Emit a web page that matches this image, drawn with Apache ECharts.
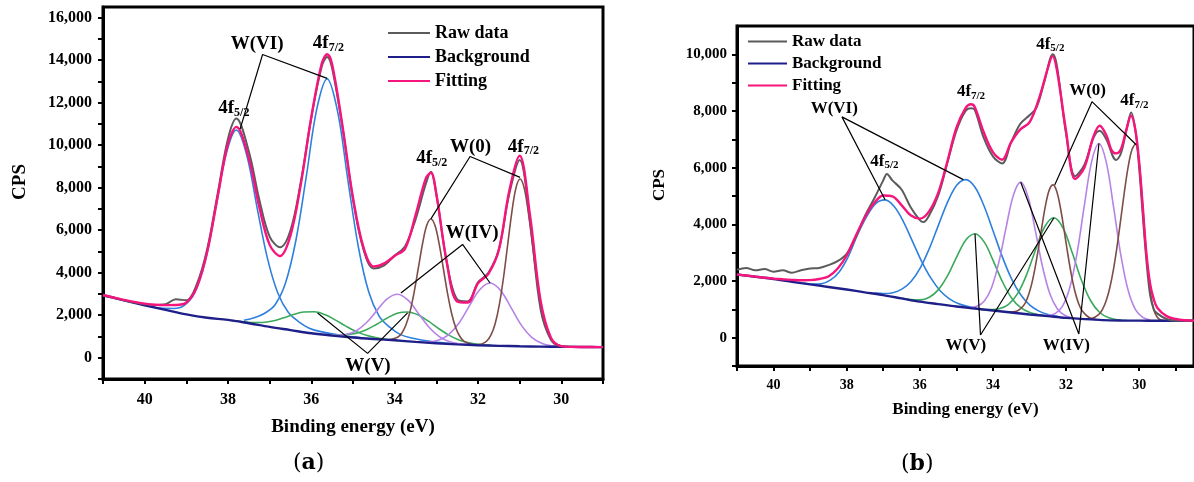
<!DOCTYPE html>
<html>
<head>
<meta charset="utf-8">
<script src="https://cdn.jsdelivr.net/npm/echarts@6/dist/echarts.min.js"></script>
<style>
html, body { margin: 0; padding: 0; background: #fff; }
#main { width: 1194px; height: 482px; }
</style>
</head>
<body>
<div id="main"></div>
<script>
// ---------- panel (a) ----------
var aBackground = [[41,2940],[40.5,2700],[40,2470],[39.5,2250],[39,2040],[38.5,1880],[38,1780],[37.5,1620],[37,1450],[36.5,1300],[36,1150],[35.5,1040],[35,950],[34.5,880],[34,820],[33.5,745],[33,680],[32.5,630],[32,590],[31.5,560],[31,540],[30.5,525],[30,515],[29.5,505],[29,500]];
var aRaw = [[41,2920],[40.75,2850],[40.5,2700],[40.25,2600],[40,2520],[39.75,2480],[39.5,2520],[39.25,2750],[39,2700],[38.75,3450],[38.5,5100],[38.25,7700],[38,10300],[37.8,11250],[37.5,9700],[37.25,7450],[37,5700],[36.75,5200],[36.5,6000],[36.25,8300],[36,11300],[35.75,13700],[35.62,14150],[35.5,13600],[35.25,10800],[35,7450],[34.75,5100],[34.5,4200],[34.25,4350],[34,4800],[33.75,5250],[33.5,6500],[33.25,8200],[33.13,8750],[33,7700],[32.75,4500],[32.5,2750],[32.25,2650],[32,3550],[31.75,4000],[31.5,5100],[31.25,7700],[31,9300],[30.75,6400],[30.5,2300],[30.25,850],[30,540],[29.75,515],[29.5,505],[29.25,502],[29,500]];
var aFit = [[41,2950],[40.75,2835],[40.5,2725],[40.25,2625],[40,2545],[39.75,2490],[39.5,2475],[39.25,2480],[39,2600],[38.75,3320],[38.5,4970],[38.25,7560],[38,10070],[37.8,10860],[37.5,9371],[37.25,7099],[37,5310],[36.75,4788],[36.5,5757],[36.25,8195],[36,11325],[35.75,13842],[35.62,14280],[35.5,13800],[35.25,10873],[35,7523],[34.75,5203],[34.5,4289],[34.25,4439],[34,4797],[33.75,5135],[33.5,6700],[33.25,8450],[33.13,8700],[33,7700],[32.75,4500],[32.5,2650],[32.25,2600],[32,3500],[31.75,3950],[31.5,5065],[31.25,7846],[31,9500],[30.75,6667],[30.5,2703],[30.25,945],[30,546],[29.75,510],[29.5,505],[29.25,502],[29,500]];
var aVI52 = [[39.8,2385],[39.55,2325],[39.3,2318],[39.05,2465],[38.8,3055],[38.55,4505],[38.3,6965],[38.05,9530],[37.8,10715],[37.55,9528],[37.3,7040],[37.05,4651],[36.8,3019],[36.55,2125],[36.3,1690],[36.05,1390],[35.8,1240],[35.3,1059],[34.8,938]];
var aVI72 = [[37.62,1763],[37.37,1876],[37.12,2093],[36.87,2495],[36.62,3517],[36.37,5527],[36.12,8539],[35.87,11692],[35.62,13120],[35.37,11587],[35.12,8324],[34.87,5197],[34.62,3077],[34.37,1950],[34.12,1438],[33.87,1101],[33.62,941],[33.12,767],[32.62,664]];
var aV52 = [[37.93,1765],[37.68,1704],[37.43,1659],[37.18,1660],[36.93,1725],[36.68,1868],[36.43,2034],[36.18,2155],[35.93,2161],[35.68,2030],[35.43,1782],[35.18,1498],[34.93,1240],[34.68,1055],[34.43,934],[34.18,864],[33.93,817]];
var aV72 = [[35.69,1090],[35.44,1062],[35.19,1076],[34.94,1146],[34.69,1308],[34.44,1565],[34.19,1859],[33.94,2093],[33.69,2155],[33.44,2018],[33.19,1719],[32.94,1365],[32.69,1053],[32.44,826],[32.19,691],[31.94,617],[31.69,580]];
var aIV52 = [[35.68,1086],[35.43,1057],[35.18,1092],[34.93,1258],[34.68,1644],[34.43,2217],[34.18,2774],[33.93,2990],[33.68,2709],[33.43,2087],[33.18,1444],[32.93,993],[32.68,757],[32.43,654],[32.18,611]];
var aIV72 = [[33.46,753],[33.21,744],[32.96,819],[32.71,1080],[32.46,1623],[32.21,2425],[31.96,3197],[31.71,3515],[31.46,3170],[31.21,2368],[30.96,1536],[30.71,960],[30.46,668],[30.21,558],[29.96,522]];
var aW052 = [[34.13,845],[33.93,961],[33.83,1155],[33.73,1539],[33.63,2179],[33.53,3115],[33.43,4245],[33.33,5374],[33.23,6230],[33.13,6530],[33.03,6204],[32.93,5329],[32.83,4175],[32.73,3015],[32.63,2059],[32.53,1389],[32.43,987],[32.33,771],[32.13,620]];
var aW072 = [[31.99,618],[31.89,664],[31.79,788],[31.69,1062],[31.59,1588],[31.49,2472],[31.39,3740],[31.29,5280],[31.19,6817],[31.09,7982],[30.99,8410],[30.89,7972],[30.79,6804],[30.69,5258],[30.59,3713],[30.49,2437],[30.39,1546],[30.29,1013],[30.19,729],[29.99,543]];
var aLeadVI = [[37.71,10752],[37.17,14267],[35.62,13140]];
var aLead0 = [[33.13,6534],[32.19,9468],[30.99,8483]];
var aLeadIV = [[33.85,3047],[32.37,5330],[31.71,3515]];
var aLeadV = [[35.85,2109],[34.65,206],[33.69,2109]];
var aLabelText = ['W(VI)', '4f|5/2', '4f|7/2', '4f|5/2', 'W(0)', '4f|7/2', 'W(IV)', 'W(V)'];
var aLabelPos = [[37.30,14750],[37.86,11750],[35.59,14800],[33.11,9383],[32.18,9890],[30.91,9922],[32.14,5845],[34.64,-390]];
var aXTicks = [41,40,39,38,37,36,35,34,33,32,31,30,29];
var aXLabels = [40,38,36,34,32,30];
var aYTicks = [-1000,0,1000,2000,3000,4000,5000,6000,7000,8000,9000,10000,11000,12000,13000,14000,15000,16000];
var aYLabels = [0,2000,4000,6000,8000,10000,12000,14000,16000];

// ---------- panel (b) ----------
var bBackground = [[41,2230],[40.5,2150],[40,2070],[39.5,1975],[39,1880],[38.5,1790],[38,1700],[37.5,1600],[37,1500],[36.5,1385],[36,1270],[35.5,1185],[35,1100],[34.5,1030],[34,960],[33.5,890],[33,820],[32.5,760],[32,700],[31.5,655],[31,620],[30.5,605],[30,600],[29.5,597],[29,595],[28.5,595]];
var bRaw = [[41,2400],[40.75,2460],[40.5,2380],[40.25,2420],[40,2330],[39.75,2380],[39.5,2290],[39.25,2380],[39,2440],[38.75,2460],[38.5,2560],[38.25,2700],[38,2960],[37.75,3550],[37.5,4300],[37.25,4900],[37,5550],[36.9,5780],[36.75,5550],[36.5,5230],[36.25,4600],[36,4150],[35.9,4080],[35.75,4300],[35.5,5000],[35.25,6150],[35,7300],[34.75,8000],[34.6,8100],[34.5,8050],[34.25,7050],[34,6400],[33.75,6150],[33.5,6900],[33.25,7550],[33,7850],[32.81,8120],[32.6,9000],[32.36,10000],[32.25,9600],[32,7200],[31.75,5700],[31.5,6100],[31.25,7050],[31.08,7300],[30.9,7000],[30.63,6270],[30.5,6500],[30.35,7300],[30.22,7950],[30.1,7300],[30,6000],[29.9,4300],[29.8,2700],[29.7,1500],[29.6,1000],[29.5,850],[29.25,660],[29,600],[28.75,600],[28.5,598]];
var bFit = [[41,2230],[40.75,2195],[40.5,2155],[40.25,2115],[40,2085],[39.75,2060],[39.5,2040],[39.25,2025],[39,2030],[38.75,2070],[38.5,2160],[38.25,2430],[38,2900],[37.75,3600],[37.5,4250],[37.25,4750],[37,5020],[36.75,4990],[36.5,4680],[36.25,4320],[36,4200],[35.75,4450],[35.5,5100],[35.25,6200],[35,7400],[34.75,8100],[34.6,8240],[34.5,8150],[34.25,7250],[34,6550],[33.75,6280],[33.5,6900],[33.25,7350],[33,7600],[32.75,8400],[32.5,9500],[32.37,9937],[32.25,9450],[32,7300],[31.75,5600],[31.5,6000],[31.25,7100],[31.08,7477],[30.9,7150],[30.75,6600],[30.63,6504],[30.5,6650],[30.35,7350],[30.22,7830],[30.1,7300],[30,6200],[29.9,4600],[29.8,2950],[29.7,1900],[29.6,1350],[29.5,1050],[29.25,760],[29,660],[28.75,615],[28.5,600]];
var bVI52 = [[39.2,1930],[38.95,1890],[38.7,1900],[38.45,2030],[38.2,2330],[37.95,2880],[37.7,3640],[37.45,4280],[37.2,4740],[36.95,4865],[36.7,4630],[36.45,4099],[36.2,3401],[35.95,2694],[35.7,2108],[35.45,1668],[35.2,1381],[34.95,1205],[34.7,1104],[34.45,1041]];
var bVI72 = [[37.24,1572],[36.99,1557],[36.74,1588],[36.49,1712],[36.24,1984],[35.99,2455],[35.74,3143],[35.49,3972],[35.24,4782],[34.99,5378],[34.74,5578],[34.49,5308],[34.24,4637],[33.99,3749],[33.74,2843],[33.49,2077],[33.24,1514],[32.99,1149],[32.74,938],[32.49,819],[32.24,752]];
var bV52 = [[36.49,1387],[36.24,1342],[35.99,1334],[35.74,1428],[35.49,1695],[35.24,2188],[34.99,2850],[34.74,3449],[34.49,3670],[34.24,3379],[33.99,2710],[33.74,1973],[33.49,1402],[33.24,1058],[32.99,886],[32.74,807],[32.49,764]];
var bV72 = [[34.33,985],[34.08,993],[33.83,1023],[33.58,1169],[33.33,1543],[33.08,2217],[32.83,3115],[32.58,3923],[32.33,4232],[32.08,3863],[31.83,2995],[31.58,2036],[31.33,1312],[31.08,889],[30.83,702],[30.58,630],[30.33,607]];
var bIV52 = [[34.64,1070],[34.44,1107],[34.24,1285],[34.04,1754],[33.84,2648],[33.64,3885],[33.44,5027],[33.24,5489],[33.04,4973],[32.84,3775],[32.64,2485],[32.44,1538],[32.24,1020],[32.04,790],[31.84,705]];
var bIV72 = [[32.5,787],[32.3,850],[32.1,1102],[31.9,1750],[31.7,2969],[31.5,4658],[31.3,6214],[31.1,6855],[30.9,6194],[30.7,4614],[30.5,2906],[30.3,1662],[30.1,990],[29.9,714],[29.7,625]];
var bW052 = [[33.56,907],[33.36,931],[33.16,1133],[33.06,1388],[32.96,1791],[32.86,2376],[32.76,3115],[32.66,3928],[32.56,4679],[32.46,5207],[32.36,5392],[32.26,5185],[32.16,4629],[32.06,3855],[31.96,3021],[31.86,2261],[31.76,1649],[31.66,1220],[31.56,951],[31.36,701],[31.16,634]];
var bW072 = [[31.5,662],[31.3,679],[31.1,824],[31.0,1010],[30.9,1312],[30.8,1779],[30.7,2431],[30.6,3257],[30.5,4208],[30.4,5185],[30.3,6037],[30.2,6622],[30.1,6833],[30.0,6178],[29.9,4601],[29.8,2898],[29.7,1658],[29.6,987],[29.5,712],[29.4,623],[29.2,596]];
var bLeadVI = [[36.95,4865],[38.13,7793],[34.81,5578]];
var bLead0 = [[32.31,5392],[31.29,8330],[30.08,6808]];
var bLeadV = [[34.49,3670],[34.34,95],[32.33,4232]];
var bLeadIV = [[33.24,5484],[31.65,130],[31.10,6855]];
var bLabelText = ['W(VI)', '4f|5/2', '4f|7/2', '4f|5/2', 'W(0)', '4f|7/2', 'W(V)', 'W(IV)'];
var bLabelPos = [[38.34,8074],[36.97,6229],[34.60,8672],[32.43,10359],[31.41,8707],[30.13,8355],[34.74,-281],[31.99,-292]];
var bXTicks = [41,40,39,38,37,36,35,34,33,32,31,30,29];
var bXLabels = [40,38,36,34,32,30];
var bYTicks = [-1000,0,1000,2000,3000,4000,5000,6000,7000,8000,9000,10000];
var bYLabels = [0,2000,4000,6000,8000,10000];

var legendNames = ['Raw data', 'Background', 'Fitting'];

var FONT = "'Liberation Serif', 'Times New Roman', serif";
var C_RAW = '#5b5b5b', C_BG = '#1f1f8a', C_FIT = '#f5157d';
var C_VI = '#2f80de', C_V = '#3aa95c', C_IV = '#b683e6', C_W0 = '#7e4d47';

function fmt(v) { return String(v).replace(/\B(?=(\d{3})+(?!\d))/g, ','); }

function curve(name, data, color, width, g, z) {
  return { name: name, type: 'line', xAxisIndex: g, yAxisIndex: g, data: data,
    symbol: 'none', showSymbol: false, smooth: 0.35, color: color,
    lineStyle: { color: color, width: width }, z: z, silent: true };
}
function leader(data, g) {
  return { type: 'line', xAxisIndex: g, yAxisIndex: g, data: data, symbol: 'none',
    lineStyle: { color: '#000', width: 1.2 }, z: 6, silent: true };
}
function labels(pos, texts, g, big, small, drop) {
  return { type: 'scatter', xAxisIndex: g, yAxisIndex: g, data: pos, symbolSize: 0, z: 7, silent: true,
    itemStyle: { opacity: 1 }, emphasis: { disabled: true },
    label: { show: true, position: 'inside', color: '#000', opacity: 1, textBorderWidth: 0,
      formatter: function (p) {
        var k = texts[p.dataIndex].split('|');
        return k.length > 1 ? '{m|' + k[0] + '}{s|' + k[1] + '}' : '{m|' + k[0] + '}';
      },
      rich: {
        m: { fontSize: big, lineHeight: big + 2, fontFamily: FONT, fontWeight: 'bold', color: '#000', textBorderWidth: 0 },
        s: { fontSize: small, lineHeight: small, fontFamily: FONT, fontWeight: 'bold', color: '#000', textBorderWidth: 0, padding: [drop, 0, 0, 0] }
      } } };
}
function xAxisCfg(g, min, ticks, labs, fs, margin, nameSize, nameGap) {
  return { type: 'value', gridIndex: g, min: min, max: 41, inverse: true,
    axisLine: { show: true, onZero: false, lineStyle: { color: '#000', width: 3 } },
    axisTick: { show: true, customValues: ticks, length: 5, lineStyle: { color: '#000', width: 2 } },
    axisLabel: { customValues: labs, margin: margin, fontSize: fs, fontFamily: FONT, fontWeight: 'bold', color: '#000' },
    splitLine: { show: false },
    name: 'Binding energy (eV)', nameLocation: 'middle', nameGap: nameGap,
    nameTextStyle: { fontSize: nameSize, fontFamily: FONT, fontWeight: 'bold', color: '#000' } };
}
function yAxisCfg(g, max, ticks, labs, fs, margin, nameSize, nameGap) {
  return { type: 'value', gridIndex: g, min: -1000, max: max,
    axisLine: { show: true, onZero: false, lineStyle: { color: '#000', width: 3 } },
    axisTick: { show: true, customValues: ticks, length: 5, lineStyle: { color: '#000', width: 2 } },
    axisLabel: { customValues: labs, formatter: fmt, margin: margin, fontSize: fs, fontFamily: FONT, fontWeight: 'bold', color: '#000' },
    splitLine: { show: false },
    name: 'CPS', nameLocation: 'middle', nameGap: nameGap,
    nameTextStyle: { fontSize: nameSize, fontFamily: FONT, fontWeight: 'bold', color: '#000', padding: [0, 0, 0, 22] } };
}
function legendCfg(left, top, w, fs, gap) {
  return { data: legendNames, orient: 'vertical', left: left, top: top, itemWidth: w, itemHeight: 2,
    icon: 'rect', itemGap: gap, selectedMode: false,
    textStyle: { fontSize: fs, lineHeight: fs, fontFamily: FONT, fontWeight: 'bold', color: '#000' } };
}

var series = [
  curve('W(VI) a1', aVI52, C_VI, 1.6, 0, 2), curve('W(VI) a2', aVI72, C_VI, 1.6, 0, 2),
  curve('W(V) a1', aV52, C_V, 1.6, 0, 2), curve('W(V) a2', aV72, C_V, 1.6, 0, 2),
  curve('W(IV) a1', aIV52, C_IV, 1.6, 0, 2), curve('W(IV) a2', aIV72, C_IV, 1.6, 0, 2),
  curve('W(0) a1', aW052, C_W0, 1.6, 0, 2), curve('W(0) a2', aW072, C_W0, 1.6, 0, 2),
  curve('Background', aBackground, C_BG, 2.4, 0, 3),
  curve('Raw data', aRaw, C_RAW, 2, 0, 4),
  curve('Fitting', aFit, C_FIT, 2.4, 0, 5),
  leader(aLeadVI, 0), leader(aLead0, 0), leader(aLeadIV, 0), leader(aLeadV, 0),
  labels(aLabelPos, aLabelText, 0, 19, 12, 9),

  curve('W(VI) b1', bVI52, C_VI, 1.6, 1, 2), curve('W(VI) b2', bVI72, C_VI, 1.6, 1, 2),
  curve('W(V) b1', bV52, C_V, 1.6, 1, 2), curve('W(V) b2', bV72, C_V, 1.6, 1, 2),
  curve('W(IV) b1', bIV52, C_IV, 1.6, 1, 2), curve('W(IV) b2', bIV72, C_IV, 1.6, 1, 2),
  curve('W(0) b1', bW052, C_W0, 1.6, 1, 2), curve('W(0) b2', bW072, C_W0, 1.6, 1, 2),
  curve('Background', bBackground, C_BG, 2.4, 1, 3),
  curve('Raw data', bRaw, C_RAW, 2, 1, 4),
  curve('Fitting', bFit, C_FIT, 2.4, 1, 5),
  leader(bLeadVI, 1), leader(bLead0, 1), leader(bLeadV, 1), leader(bLeadIV, 1),
  labels(bLabelPos, bLabelText, 1, 17, 11, 8)
];

var chart = echarts.init(document.getElementById('main'));
chart.setOption({
  animation: false,
  grid: [
    { left: 103, top: 7, width: 500, height: 372, show: true, borderColor: '#000', borderWidth: 3 },
    { left: 737, top: 26, width: 459, height: 340, show: true, borderColor: '#000', borderWidth: 3 }
  ],
  xAxis: [
    xAxisCfg(0, 29, aXTicks, aXLabels, 16, 13, 19, 39),
    xAxisCfg(1, 28.5, bXTicks, bXLabels, 14, 12, 17, 35)
  ],
  yAxis: [
    yAxisCfg(0, 16500, aYTicks, aYLabels, 16, 11, 19, 73),
    yAxisCfg(1, 11000, bYTicks, bYLabels, 15, 10, 17, 69)
  ],
  legend: [
    legendCfg(383, 19, 42, 18, 6),
    legendCfg(743, 28, 39, 17, 5)
  ],
  graphic: [
    { type: 'text', left: 293, top: 452,
      style: { text: '{p|(}{b|a}{p|)}', rich: {
        p: { fontSize: 22, fontFamily: 'DejaVu Serif', fill: '#000' },
        b: { fontSize: 22, fontFamily: 'DejaVu Serif', fontWeight: 'bold', fill: '#000' } } } },
    { type: 'text', left: 901, top: 453,
      style: { text: '{p|(}{b|b}{p|)}', rich: {
        p: { fontSize: 22, fontFamily: 'DejaVu Serif', fill: '#000' },
        b: { fontSize: 22, fontFamily: 'DejaVu Serif', fontWeight: 'bold', fill: '#000' } } } }
  ],
  series: series
});
</script>
</body>
</html>
